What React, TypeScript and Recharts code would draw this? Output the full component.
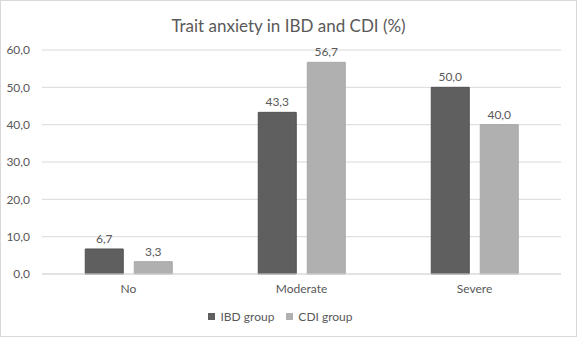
import React from "react";
import { BarChart, Bar, XAxis, YAxis, CartesianGrid, Legend, LabelList } from "recharts";

const categories = ["No", "Moderate", "Severe"];
const ibdValues = [6.7, 43.3, 50.0];
const cdiValues = [3.3, 56.7, 40.0];
const yTicks = [0, 10, 20, 30, 40, 50, 60];
const seriesNames = ["IBD group", "CDI group"];

const data = categories.map((c, i) => ({ name: c, ibd: ibdValues[i], cdi: cdiValues[i] }));

const FONT = "Lato, 'Open Sans', sans-serif";
const TEXT = "#595959";
const fmt = (v: any) => Number(v).toFixed(1).replace(".", ",");

const colors = ["#5f5f5f", "#b0b0b0"];

const renderLegend = () => (
  <div style={{ display: "flex", justifyContent: "center", alignItems: "center", fontFamily: FONT, fontSize: 12, color: TEXT, height: 20 }}>
    {seriesNames.map((n, i) => (
      <span key={n} style={{ display: "flex", alignItems: "center", marginRight: i === 0 ? 12 : 0 }}>
        <span style={{ display: "inline-block", width: 7, height: 7, background: colors[i], marginRight: 5 }} />
        {n}
      </span>
    ))}
  </div>
);

export default function App() {
  return (
    <div style={{ position: "absolute", left: 0, top: 0, width: 577, height: 337, background: "#fff" }}>
      <div style={{ position: "absolute", left: 0, top: 0, width: 575, height: 335, border: "1px solid #d9d9d9" }} />
      <div style={{ position: "absolute", top: 15, left: 0, width: 577, textAlign: "center", fontFamily: FONT, fontSize: 17, color: TEXT }}>
        Trait anxiety in IBD and CDI (%)
      </div>
      <BarChart
        width={577}
        height={337}
        data={data}
        margin={{ top: 50, right: 16, left: 0, bottom: 11 }}
        barCategoryGap="25%"
        barGap={11}
      >
        <CartesianGrid vertical={false} stroke="#d9d9d9" />
        <XAxis
          dataKey="name"
          height={32}
          tickLine={false}
          axisLine={{ stroke: "#d9d9d9" }}
          tick={{ fill: TEXT, fontSize: 12, fontFamily: FONT }}
          tickMargin={4}
        />
        <YAxis
          width={42}
          domain={[0, 60]}
          ticks={yTicks}
          tickFormatter={fmt}
          axisLine={false}
          tickLine={false}
          tick={{ fill: TEXT, fontSize: 12, fontFamily: FONT }}
          tickMargin={6}
        />
        <Legend verticalAlign="bottom" content={renderLegend} />
        <Bar dataKey="ibd" name={seriesNames[0]} fill={colors[0]} stroke="#525252" isAnimationActive={false}>
          <LabelList dataKey="ibd" position="top" formatter={fmt} style={{ fill: TEXT, fontSize: 12, fontFamily: FONT }} offset={6} />
        </Bar>
        <Bar dataKey="cdi" name={seriesNames[1]} fill={colors[1]} stroke="#a8a8a8" isAnimationActive={false}>
          <LabelList dataKey="cdi" position="top" formatter={fmt} style={{ fill: TEXT, fontSize: 12, fontFamily: FONT }} offset={6} />
        </Bar>
      </BarChart>
    </div>
  );
}
